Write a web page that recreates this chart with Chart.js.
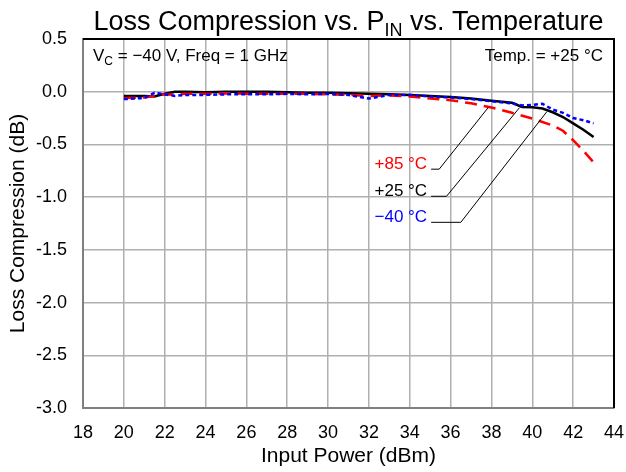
<!DOCTYPE html>
<html><head><meta charset="utf-8">
<script src="https://cdn.jsdelivr.net/npm/chart.js@4/dist/chart.umd.min.js"></script>
<style>html,body{margin:0;padding:0;background:#fff}</style>
</head><body>
<canvas id="c" width="626" height="472" style="display:block;width:626px;height:472px"></canvas>
<script>
// ---- data ----
const xTickValues = [18,20,22,24,26,28,30,32,34,36,38,40,42,44];
const yTickValues = [0.5,0.0,-0.5,-1.0,-1.5,-2.0,-2.5,-3.0];

const p25_x = [20,21,21.5,22,22.5,23,24,25,26,27,28,29,30,31,32,33,34,35,36,37,38,39,39.5,40,40.5,41,41.5,42,42.5,43];
const p25_y = [-0.04,-0.04,-0.045,-0.02,0,0,-0.005,0,0,0,-0.005,-0.01,-0.01,-0.015,-0.02,-0.025,-0.03,-0.04,-0.05,-0.065,-0.085,-0.105,-0.145,-0.148,-0.16,-0.195,-0.24,-0.3,-0.36,-0.43];

const p85_x = [20,21,21.5,22,22.5,23,24,25,26,27,28,29,30,31,32,33,34,35,36,37,38,39,40,41,41.5,42,42.5,43];
const p85_y = [-0.06,-0.055,-0.04,-0.025,-0.03,-0.02,-0.02,-0.015,-0.02,-0.02,-0.02,-0.02,-0.025,-0.03,-0.04,-0.035,-0.045,-0.065,-0.08,-0.11,-0.15,-0.2,-0.255,-0.32,-0.37,-0.46,-0.56,-0.67];

const m40_x = [20,21,21.5,22,22.5,23,24,25,26,27,28,29,30,31,32,33,34,35,36,37,38,39,39.5,40,40.5,41,41.5,42,42.5,43];
const m40_y = [-0.07,-0.06,-0.01,-0.025,-0.04,-0.03,-0.03,-0.025,-0.025,-0.025,-0.02,-0.025,-0.02,-0.03,-0.065,-0.03,-0.03,-0.045,-0.055,-0.07,-0.09,-0.11,-0.13,-0.125,-0.115,-0.17,-0.2,-0.25,-0.27,-0.3];

const seriesNames = ['+85 °C', '+25 °C', '\u221240 °C'];

// label / leader-line anchors in data units
const callouts = [
  {text: seriesNames[0], color: '#ff0000', lx: 34.85, ly: -0.73,  hx: 35.44, px: 37.85, py: -0.148},
  {text: seriesNames[1], color: '#000000', lx: 34.85, ly: -0.987, hx: 35.80, px: 39.37, py: -0.152},
  {text: seriesNames[2], color: '#0000ff', lx: 34.85, ly: -1.234, hx: 36.50, px: 40.71, py: -0.19}
];

const FONT = "'Liberation Sans', Arial, Helvetica, sans-serif";
const pts = (xs, ys) => xs.map((x, i) => ({x, y: ys[i]}));

const overlay = {
  id: 'overlay',
  afterDraw(chart) {
    const {ctx, chartArea: a, scales: {x, y}} = chart;
    ctx.save();
    // top & right border
    ctx.strokeStyle = '#000'; ctx.lineWidth = 2;
    ctx.beginPath();
    ctx.moveTo(a.left, a.top); ctx.lineTo(a.right, a.top); ctx.lineTo(a.right, a.bottom);
    ctx.stroke();

    // title with subscript
    ctx.fillStyle = '#000';
    ctx.textBaseline = 'alphabetic';
    ctx.textAlign = 'left';
    const parts = [['Loss Compression vs. P', 27, 0], ['IN', 18, 6], [' vs. Temperature', 27, 0]];
    let tw = 0;
    parts.forEach(p => { ctx.font = p[1] + 'px ' + FONT; tw += ctx.measureText(p[0]).width; });
    let tx = (a.left + a.right) / 2 - tw / 2;
    parts.forEach(p => { ctx.font = p[1] + 'px ' + FONT; ctx.fillText(p[0], tx, 30 + p[2]); tx += ctx.measureText(p[0]).width; });

    // in-plot annotations
    const sub = (items, startX, base, align) => {
      let w = 0;
      items.forEach(p => { ctx.font = p[1] + 'px ' + FONT; w += ctx.measureText(p[0]).width; });
      let sx = align === 'right' ? startX - w : startX;
      items.forEach(p => { ctx.font = p[1] + 'px ' + FONT; ctx.fillText(p[0], sx, base + p[2]); sx += ctx.measureText(p[0]).width; });
    };
    sub([['V', 17, 0], ['C', 12, 4], [' = \u221240 V, Freq = 1 GHz', 17, 0]], a.left + 10, 61, 'left');
    sub([['Temp. = +25 °C', 17, 0]], a.right - 11, 61, 'right');

    // callouts
    ctx.font = '17px ' + FONT;
    callouts.forEach(c => {
      const lx = x.getPixelForValue(c.lx), ly = y.getPixelForValue(c.ly);
      ctx.fillStyle = c.color;
      ctx.textAlign = 'right';
      ctx.fillText(c.text, lx, ly);
      ctx.strokeStyle = '#000'; ctx.lineWidth = 1; ctx.setLineDash([]);
      ctx.beginPath();
      ctx.moveTo(lx + 4, ly + 0.5);
      ctx.lineTo(x.getPixelForValue(c.hx), ly + 0.5);
      ctx.lineTo(x.getPixelForValue(c.px), y.getPixelForValue(c.py));
      ctx.stroke();
    });
    ctx.restore();
  }
};

new Chart(document.getElementById('c'), {
  type: 'scatter',
  data: {
    datasets: [
      {label: seriesNames[2], data: pts(m40_x, m40_y), showLine: true, borderColor: '#0000ff', borderWidth: 2.5, borderDash: [4, 3], pointRadius: 0, tension: 0},
      {label: seriesNames[0], data: pts(p85_x, p85_y), showLine: true, borderColor: '#ff0000', borderWidth: 2.5, borderDash: [12, 7], pointRadius: 0, tension: 0},
      {label: seriesNames[1], data: pts(p25_x, p25_y), showLine: true, borderColor: '#000000', borderWidth: 2.5, pointRadius: 0, tension: 0}
    ]
  },
  options: {
    responsive: false,
    animation: false,
    devicePixelRatio: 1,
    layout: {padding: {top: 39, right: 12, left: 0, bottom: 0}},
    plugins: {legend: {display: false}, tooltip: {enabled: false}, title: {display: false}},
    scales: {
      x: {
        type: 'linear', min: 18, max: 44,
        afterBuildTicks: s => { s.ticks = xTickValues.map(v => ({value: v})); },
        afterFit: s => { s.height = 64; s.paddingLeft = 0; s.paddingRight = 0; },
        ticks: {color: '#000', font: {family: FONT, size: 18}, padding: 14, maxRotation: 0, autoSkip: false},
        grid: {color: '#b0b0b0', lineWidth: 1.5, drawTicks: false},
        border: {color: '#808080', width: 2},
        title: {display: true, text: 'Input Power (dBm)', color: '#000', font: {family: FONT, size: 21}, padding: {top: 0, bottom: 3}}
      },
      y: {
        type: 'linear', min: -3.0, max: 0.5,
        afterBuildTicks: s => { s.ticks = yTickValues.map(v => ({value: v})); },
        afterFit: s => { s.width = 83; s.paddingTop = 0; s.paddingBottom = 0; },
        ticks: {color: '#000', font: {family: FONT, size: 18}, padding: 16, callback: v => Number(v).toFixed(1), autoSkip: false},
        grid: {color: '#b0b0b0', lineWidth: 1.5, drawTicks: false},
        border: {color: '#808080', width: 2},
        title: {display: true, text: 'Loss Compression (dB)', color: '#000', font: {family: FONT, size: 21}, padding: {top: 6, bottom: 0}}
      }
    }
  },
  plugins: [overlay]
});
</script>
</body></html>
